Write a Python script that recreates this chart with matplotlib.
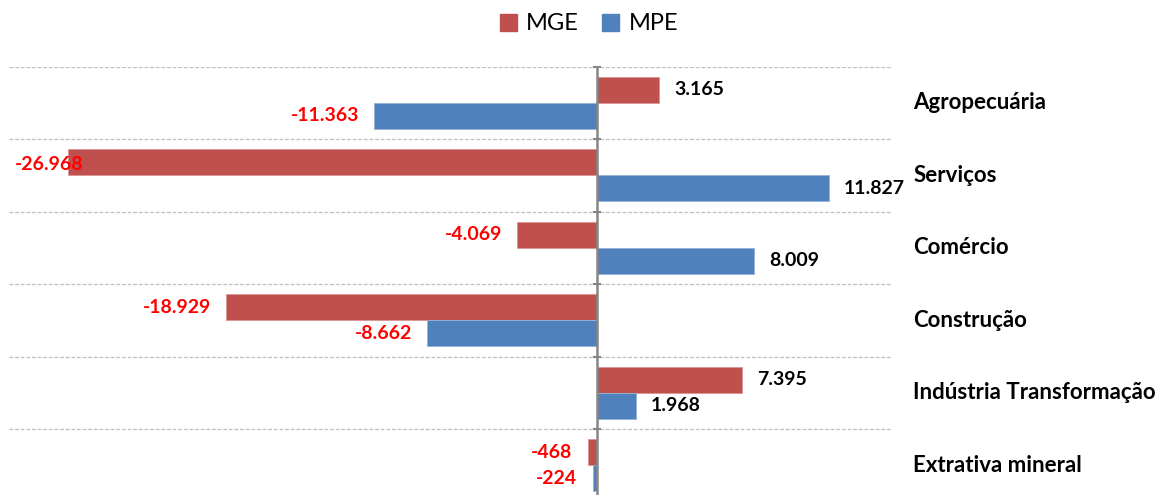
import matplotlib
matplotlib.use("Agg")
import matplotlib.pyplot as plt
from matplotlib.patches import Patch
import matplotlib.transforms as mtransforms
import numpy as np

categories = ["Agropecuária", "Serviços", "Comércio", "Construção",
              "Indústria Transformação", "Extrativa mineral"]
mge = [3165, -26968, -4069, -18929, 7395, -468]
mpe = [-11363, 11827, 8009, -8662, 1968, -224]
series_names = ["MGE", "MPE"]
value_labels_mge = ["3.165", "-26.968", "-4.069", "-18.929", "7.395", "-468"]
value_labels_mpe = ["-11.363", "11.827", "8.009", "-8.662", "1.968", "-224"]

RED = "#C0504D"
BLUE = "#4F81BD"
FONT = "Lato"

fig = plt.figure(figsize=(11.6, 4.95), dpi=100)
W, H = 1160, 495
left, right, top, bottom = 9, 891, 66.5, 501.5
ax = fig.add_axes([left / W, (H - bottom) / H, (right - left) / W, (bottom - top) / H])

y = np.arange(len(categories))
bh = 0.36
ax.barh(y - bh / 2, mge, height=bh, color=RED, edgecolor="#D99694", linewidth=0.6, label="MGE")
ax.barh(y + bh / 2, mpe, height=bh, color=BLUE, edgecolor="#95B3D7", linewidth=0.6, label="MPE")

ax.set_xlim(-30000, 15000)
ax.set_ylim(len(categories) - 0.5, -0.5)

for s in ["top", "right", "bottom"]:
    ax.spines[s].set_visible(False)
ax.spines["left"].set_position(("data", 0))
ax.spines["left"].set_color("#868686")
ax.spines["left"].set_linewidth(1.8)
ax.spines["left"].set_zorder(5)
ax.set_xticks([])
ax.set_yticks(np.arange(len(categories) + 1) - 0.5)
ax.set_yticklabels([])
ax.tick_params(axis="y", direction="inout", length=6, width=1.5, color="#868686")
ax.grid(axis="y", color="#BFBFBF", linewidth=0.9, linestyle=(0, (3, 1.5)))
ax.set_axisbelow(True)

trans = mtransforms.blended_transform_factory(ax.transAxes, ax.transData)
for i, c in enumerate(categories):
    ax.text(1.025, i, c, transform=trans, ha="left", va="center",
            fontsize=16, fontweight="bold", family=FONT, color="black")

texts = []
off = 11
for vals, labs, sign in [(mge, value_labels_mge, -1), (mpe, value_labels_mpe, 1)]:
    for i, (v, lab) in enumerate(zip(vals, labs)):
        yy = i + sign * bh / 2
        if v >= 0:
            t = ax.annotate(lab, (v, yy), xytext=(off, 0), textcoords="offset points",
                            ha="left", va="center", fontsize=14, fontweight="bold",
                            family=FONT, color="black")
        else:
            t = ax.annotate(lab, (v, yy), xytext=(-off, 0), textcoords="offset points",
                            ha="right", va="center", fontsize=14, fontweight="bold",
                            family=FONT, color="#FF0000")
        texts.append(t)

fig.canvas.draw()
renderer = fig.canvas.get_renderer()
axbox = ax.get_window_extent(renderer)
for t in texts:
    bb = t.get_window_extent(renderer)
    if bb.x0 < axbox.x0:
        t.set_ha("left")
        t.xy = (ax.get_xlim()[0], t.xy[1])
        t.set_position((6 * 72 / 100, -2))

handles = [Patch(facecolor=RED, edgecolor=RED), Patch(facecolor=BLUE, edgecolor=BLUE)]
fig.legend(handles, series_names, loc="center", bbox_to_anchor=(589 / W, 1 - 24 / H),
           ncol=2, frameon=False, prop={"family": FONT, "size": 17},
           handlelength=0.7, handleheight=0.7, handletextpad=0.4, columnspacing=1.0)

fig.savefig("out.png", dpi=100)
